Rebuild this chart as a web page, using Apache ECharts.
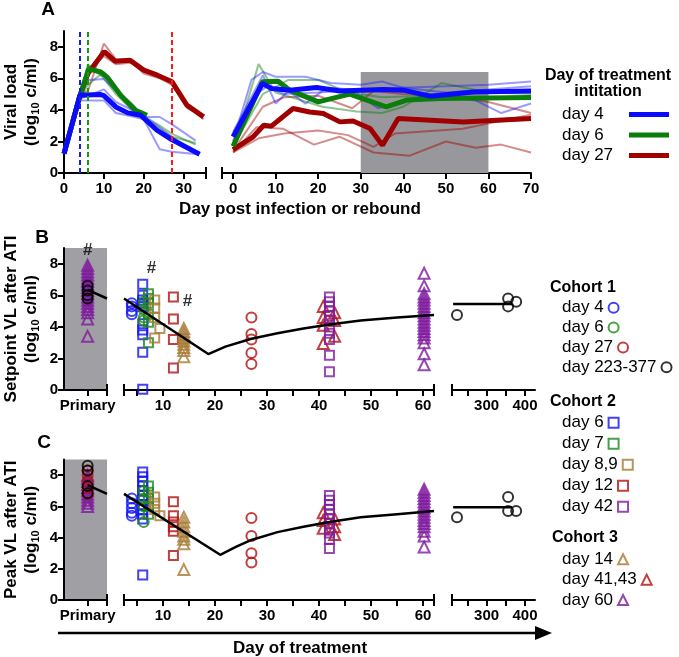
<!DOCTYPE html>
<html><head><meta charset="utf-8">
<script src="https://cdn.jsdelivr.net/npm/echarts@6.0.0/dist/echarts.min.js"></script>
<style>html,body{margin:0;padding:0;background:#fff}#c{width:679px;height:657px}</style>
</head><body><div id="c"></div>
<script>
const FONT = "'Liberation Sans', Arial, Helvetica, sans-serif";
const COL = {blue:'#1212f2', green:'#1a8a1a', red:'#b01010', brown:'#a67a34', purple:'#7e1a9e', black:'#000000'};
const THICK = {blue:'#0a0aff', green:'#0b7d0b', red:'#a00000'};

// ---------- Panel A : viral load curves ----------
const primaryTicks = [0, 10, 20, 30];
const reboundTicks = [0, 10, 20, 30, 40, 50, 60, 70];
const treatStartDays = [4, 6, 27];
const grayWindow = [30, 60, 6.4];

const primBlueMean = [[0,1.23],[4,4.93],[9,4.98],[10,4.9],[13,4.19],[16,3.81],[19.2,3.66],[23.3,2.71],[27,2.12],[34,1.19]];
const primGreenMean = [[0,1.23],[4,4.9],[6.2,6.6],[9.2,6.4],[10.9,6.05],[14.2,4.93],[17.9,3.98],[20.8,3.66]];
const primRedMean = [[0,1.23],[4,4.9],[6,6.3],[10.1,7.7],[12.8,7.09],[16.5,7.15],[20,6.52],[23.4,6.2],[27.1,5.78],[30.8,4.3],[35,3.56]];
const primBlue1 = [[0,1.2],[4,4.8],[6,5.9],[10,5.95],[13,5.2],[17,4.4],[20,3.55],[24,3.55],[27,3.1],[33,2.05]];
const primBlue2 = [[0,1.2],[4,4.6],[6,4.6],[10,4.6],[13,3.8],[17,3.6],[20,3.4],[24,1.5],[27,1.35],[33,1.2]];
const primBlue3 = [[0,1.2],[4,4.7],[6,4.9],[10,5.3],[13,4.5],[17,4.0],[20,3.6],[24,2.9],[27,2.3],[33,1.3]];
const primGreen1 = [[0,1.2],[4,4.7],[6,5.6],[10,6.4],[13,5.3],[17,4.2],[20,3.6],[24,3.0],[27,2.5],[33,1.8]];
const primGreen2 = [[0,1.2],[4,4.9],[6,6.9],[10,6.0],[13,5.0],[17,4.0],[20,3.5],[24,2.8],[27,2.3],[33,1.9]];
const primRed1 = [[0,1.2],[4,5.0],[6,5.2],[10,8.2],[13,7.2],[17,7.2],[20,6.6],[24,6.2],[27,5.8],[31,4.3],[35,3.4]];
const primRed2 = [[0,1.2],[4,5.1],[6,6.6],[10,7.4],[13,6.9],[17,7.0],[20,6.3],[24,6.0],[27,5.6],[31,4.1],[35,3.6]];

const rebBlueMean = [[0,2.3],[6.9,5.67],[9,5.36],[13.3,5.25],[19.6,5.42],[25.1,5.2],[35.3,5.29],[40,5.25],[46.3,4.87],[56.5,5.14],[70,5.2]];
const rebGreenMean = [[0,1.7],[6.9,5.78],[10.6,5.82],[13.3,5.25],[20,4.51],[27.4,5.0],[36,4.19],[40.8,4.62],[48.6,4.72],[70,4.78]];
const rebRedMean = [[0,1.48],[4.7,2.29],[7.2,3.03],[9,2.97],[14.1,4.09],[18,3.87],[21.2,3.77],[25.1,3.24],[28.2,3.3],[32.2,2.82],[35.1,1.76],[38.8,3.45],[54.1,3.24],[70,3.45]];
const rebBlue1 = [[0,2.0],[4.3,5.9],[7,6.4],[10,6.1],[17,6.1],[23,5.7],[30,5.6],[35,5.8],[40,5.4],[50,5.5],[60,5.6],[70,5.8]];
const rebBlue2 = [[0,2.6],[7,6.2],[10,4.4],[13,5.2],[17,4.4],[22,5.4],[28,5.3],[34,4.1],[40,4.5],[46,5.0],[57,4.6],[63,3.8],[70,4.4]];
const rebBlue3 = [[0,1.8],[5,4.9],[8,5.5],[12,5.0],[20,5.1],[30,5.3],[40,5.4],[50,5.1],[60,5.3],[70,5.5]];
const rebGreen1 = [[0,1.5],[6,6.9],[10,5.1],[21,4.2],[29,3.9],[35,3.8],[40,4.2],[49,5.7],[60,5.1],[70,5.0]];
const rebGreen2 = [[0,1.7],[7,5.0],[13,5.9],[20,5.9],[27,5.1],[35,4.8],[45,4.9],[55,4.8],[70,4.8]];
const rebRed1 = [[0,1.3],[5.5,2.9],[11.8,2.8],[19,1.8],[25,2.3],[33,1.3],[41.5,1.1],[50,2.0],[57,1.6],[63,1.8],[70,1.3]];
const rebRed2 = [[0,1.4],[7,4.2],[12,4.8],[20,4.9],[28,4.1],[33,5.2],[40,5.0],[50,4.9],[60,4.5],[70,3.8]];
const rebRed3 = [[0,1.3],[6,2.2],[12,2.5],[20,2.7],[27,2.4],[33,1.65],[38,2.5],[54,2.8],[70,3.7]];

// ---------- Panels B & C : tick labels ----------
const vlTicks = [0, 2, 4, 6, 8];
const treatLabelDays = [10, 20, 30, 40, 50, 60];
const treatTickDays = [5, 10, 15, 20, 25, 30, 35, 40, 45, 50, 55, 60];
const lateLabelDays = [300, 400];
const lateTickDays = [250, 300, 350, 400];
const primX = 0.55;

// ---------- Panel B : setpoint VL ----------
const setC1d4 = [5.5, 5.3, 5.0, 4.8];
const setC1d6 = [5.6, 5.1, 4.6, 4.4];
const setC1d27 = [4.6, 3.55, 3.2, 2.35, 1.65];
const setC1late = [[223,4.75],[356,5.8],[356,5.3],[377,5.6]];
const setC2d6 = [6.7, 6.0, 5.7, 5.5, 5.3, 4.2, 3.8, 3.5, 2.4, 0.05];
const setC2d7 = [6.1, 5.8, 5.5, 4.8, 4.3, 3.0];
const setC2d89 = [[8.4,5.7],[8.4,5.2],[8.4,4.6],[8.4,3.3],[9.4,3.9]];
const setC2d12 = [5.9, 4.5, 3.2, 1.4];
const setC2d42 = [5.9, 5.6, 5.3, 5.0, 4.7, 4.4, 4.0, 3.6, 3.2, 2.2, 1.15];
const setC3d14 = [3.9, 3.7, 3.5, 3.3, 3.1, 2.9, 2.7, 2.5, 2.1];
const setC3d4143 = [[40.8,5.3],[40.8,4.6],[40.8,4.1],[40.8,2.95],[43,4.9],[43,4.4],[43,3.4]];
const setC3d60 = [7.4, 6.6, 6.1, 5.9, 5.7, 5.5, 5.3, 5.1, 4.9, 4.7, 4.5, 4.3, 4.1, 3.9, 3.7, 3.5, 3.3, 3.0, 2.3, 1.6];
const setPrimPurple = [3.4, 4.5, 4.9, 5.1, 5.3, 5.5, 5.7, 5.9, 6.1, 6.3, 6.5, 6.7, 6.9, 7.1, 7.3, 7.5, 7.7, 7.9];
const setPrimRed = [];
const setPrimBlack = [5.8, 6.0, 6.3, 6.6];
const setModelPrim = [[0.55,6.35],[1.0,5.8]];
const setModelTreat = [[2.5,5.8],[18.7,2.28],[22,2.75],[27,3.25],[32,3.6],[37,3.9],[42,4.15],[48,4.4],[55,4.6],[62.1,4.75]];
const setModelLate = [[213,5.45],[366,5.45]];
const setHashPrim = [[0.55,8.86]];
const setHashTreat = [[7.8,7.72],[14.7,5.59]];

// ---------- Panel C : peak VL ----------
const peakC1d4 = [6.5, 6.2, 5.9, 5.6, 5.4];
const peakC1d6 = [7.0, 6.5, 6.0, 5.0];
const peakC1d27 = [5.25, 4.1, 3.0, 2.4];
const peakC1late = [[223,5.3],[356,6.6],[356,5.7],[377,5.7]];
const peakC2d6 = [8.2, 7.9, 7.6, 7.3, 7.0, 6.7, 6.4, 6.1, 5.8, 5.5, 5.2, 1.6];
const peakC2d7 = [7.3, 6.9, 6.5, 6.0, 5.5];
const peakC2d89 = [[8.4,6.6],[8.4,6.2],[8.4,5.8],[9.4,5.4]];
const peakC2d12 = [6.3, 5.4, 5.0, 4.7, 4.4, 2.85];
const peakC2d42 = [6.7, 6.4, 6.1, 5.8, 5.5, 5.2, 4.9, 4.6, 4.3, 3.9, 3.3];
const peakC3d14 = [5.3, 5.0, 4.7, 4.4, 4.1, 3.9, 3.6, 1.95];
const peakC3d4143 = [[40.8,5.6],[40.8,5.1],[40.8,4.6],[43,5.2],[43,4.7],[43,4.2]];
const peakC3d60 = [7.1, 6.9, 6.7, 6.5, 6.3, 6.1, 5.9, 5.7, 5.5, 5.3, 5.1, 4.9, 4.7, 4.4, 4.1, 3.4];
const peakPrimPurple = [6.0, 6.2, 6.4, 6.6, 6.8, 7.0, 7.2, 7.4, 7.6, 7.8, 8.0];
const peakPrimRed = [6.8, 7.2, 7.6, 8.0, 8.3];
const peakPrimBlack = [6.85, 7.3, 8.3, 8.6];
const peakModelPrim = [[0.55,7.37],[1.0,6.8]];
const peakModelTreat = [[2.5,6.8],[21,2.9],[24,3.4],[27,3.85],[32,4.35],[37,4.7],[42,5.0],[48,5.3],[55,5.5],[62.1,5.7]];
const peakModelLate = [[213,5.95],[366,5.95]];

// ---------- legend labels ----------
const legendA = ['A day 4', 'A day 6', 'A day 27'];
const legendC1 = ['C1 day 4', 'C1 day 6', 'C1 day 27', 'C1 day 223-377'];
const legendC2 = ['C2 day 6', 'C2 day 7', 'C2 day 8,9', 'C2 day 12', 'C2 day 42'];
const legendC3 = ['C3 day 14', 'C3 day 41,43', 'C3 day 60'];

// ---------- helpers ----------
const atX = (x, vals) => vals.map(v => [x, v]);
const grids = [
  {left:62, top:31, width:144, height:142},     // 0 A primary
  {left:222, top:31, width:309, height:142},    // 1 A rebound
  {left:62, top:248, width:45, height:142, show:true, backgroundColor:'#a0a0a4', borderWidth:0}, // 2 B primary
  {left:124, top:248, width:310, height:142},   // 3 B treat
  {left:452, top:248, width:83, height:142},    // 4 B late
  {left:62, top:459.6, width:45, height:140.4, show:true, backgroundColor:'#a0a0a4', borderWidth:0}, // 5 C primary
  {left:124, top:459.6, width:310, height:140.4}, // 6 C treat
  {left:452, top:459.6, width:83, height:140.4}   // 7 C late
];
const lbl = {color:'#000', fontFamily:FONT, fontWeight:'bold', fontSize:15};
function xAx(gi, min, max, ticks, labels, fmt) {
  return {type:'value', gridIndex:gi, min, max, position:'bottom',
    axisLine:{show:true, onZero:false, lineStyle:{color:'#000', width:2}},
    axisTick:{show:true, customValues:ticks, length:6, lineStyle:{color:'#000', width:2}},
    axisLabel:Object.assign({show:true, customValues:labels, margin:8, formatter:fmt || (v => String(v))}, lbl),
    splitLine:{show:false}};
}
function brk(gi, min, max, vals) {
  return {type:'value', gridIndex:gi, min, max, position:'bottom',
    axisLine:{show:false}, axisTick:{show:true, inside:true, customValues:vals, length:6, lineStyle:{color:'#000', width:2}},
    axisLabel:{show:false}, splitLine:{show:false}};
}
const nameStyle = {color:'#000', fontFamily:FONT, fontWeight:'bold', fontSize:17, lineHeight:20,
  rich:{s:{fontFamily:FONT, fontWeight:'bold', fontSize:11, lineHeight:12, verticalAlign:'bottom', color:'#000'}}};
function yAx(gi, show, name) {
  return {type:'value', gridIndex:gi, min:0, max:9, show,
    axisLine:{show:true, lineStyle:{color:'#000', width:2}},
    axisTick:{show:true, customValues:vlTicks, length:6, lineStyle:{color:'#000', width:2}},
    axisLabel:Object.assign({customValues:vlTicks, margin:6}, lbl),
    splitLine:{show:false},
    name:name || '', nameLocation:'middle', nameRotate:90, nameGap:23, nameTextStyle:nameStyle};
}

const primFmt = () => 'Primary';
const xAxes = [
  xAx(0, 0, 35.6, primaryTicks.concat([35.6]), primaryTicks),
  xAx(1, -2.6, 70, [-2.6].concat(reboundTicks), reboundTicks),
  xAx(2, 0, 1, [primX, 1], [primX], primFmt),
  xAx(3, 2.5, 62.1, [2.5].concat(treatTickDays, [62.1]), treatLabelDays),
  xAx(4, 210, 426, [210].concat(lateTickDays), lateLabelDays),
  xAx(5, 0, 1, [primX, 1], [primX], primFmt),
  xAx(6, 2.5, 62.1, [2.5].concat(treatTickDays, [62.1]), treatLabelDays),
  xAx(7, 210, 426, [210].concat(lateTickDays), lateLabelDays),
  brk(0, 0, 35.6, [35.6]), brk(1, -2.6, 70, [-2.6]),
  brk(2, 0, 1, [1]), brk(3, 2.5, 62.1, [2.5, 62.1]), brk(4, 210, 426, [210]),
  brk(5, 0, 1, [1]), brk(6, 2.5, 62.1, [2.5, 62.1]), brk(7, 210, 426, [210])
];
const yAxes = [
  yAx(0, true, 'Viral load\n(log{s|10} c/ml)'), yAx(1, false),
  yAx(2, true, 'Setpoint VL after ATI\n(log{s|10} c/ml)'), yAx(3, false), yAx(4, false),
  yAx(5, true, 'Peak VL after ATI\n(log{s|10} c/ml)'), yAx(6, false), yAx(7, false)
];

const series = [];
function addLine(name, data, gi, color, width, opacity, z, extra) {
  series.push(Object.assign({type:'line', name, data, xAxisIndex:gi, yAxisIndex:gi, showSymbol:false, symbol:'none',
    lineStyle:{color, width, opacity}, itemStyle:{color}, z, silent:true, emphasis:{disabled:true}}, extra || {}));
}
function addScatter(name, data, gi, symbol, size, color, z) {
  series.push({type:'scatter', name, data, xAxisIndex:gi, yAxisIndex:gi, symbol, symbolSize:size,
    itemStyle:{color:'rgba(0,0,0,0)', borderColor:color, borderWidth:2}, z:z || 2, silent:true, emphasis:{disabled:true}});
}
function addHash(data, gi) {
  series.push({type:'scatter', name:'hash', data, xAxisIndex:gi, yAxisIndex:gi, symbolSize:1, z:5, silent:true,
    itemStyle:{color:'rgba(0,0,0,0)'},
    label:{show:true, position:'inside', formatter:'#', color:'#000', fontFamily:FONT, fontWeight:'bold', fontSize:17}});
}
function mkLine(x, color) {
  return {markLine:{silent:true, symbol:['none','none'], label:{show:false}, animation:false,
    lineStyle:{type:[5,3], width:2, color, opacity:1}, data:[{xAxis:x}]}};
}

// Panel A
series.push({type:'line', name:'area', data:[], xAxisIndex:1, yAxisIndex:1, z:0, silent:true,
  markArea:{silent:true, itemStyle:{color:'#98989c', opacity:1},
    data:[[{coord:[grayWindow[0], 0]}, {coord:[grayWindow[1], grayWindow[2]]}]]}});
[primRed1, primRed2].forEach(d => addLine('thin', d, 0, THICK.red, 2, 0.45, 2));
[primGreen1, primGreen2].forEach(d => addLine('thin', d, 0, THICK.green, 2, 0.45, 2));
[primBlue1, primBlue2, primBlue3].forEach(d => addLine('thin', d, 0, '#2020ff', 2, 0.45, 2));
[rebRed1, rebRed2, rebRed3].forEach(d => addLine('thin', d, 1, THICK.red, 2, 0.45, 2));
[rebGreen1, rebGreen2].forEach(d => addLine('thin', d, 1, THICK.green, 2, 0.45, 2));
[rebBlue1, rebBlue2, rebBlue3].forEach(d => addLine('thin', d, 1, '#2020ff', 2, 0.45, 2));
addLine('A day 27', primRedMean, 0, THICK.red, 5, 1, 3, mkLine(treatStartDays[2], '#ff1a1a'));
addLine('A day 6', primGreenMean, 0, THICK.green, 5, 1, 3, mkLine(treatStartDays[1], '#129a12'));
addLine('A day 4', primBlueMean, 0, THICK.blue, 5, 1, 3, mkLine(treatStartDays[0], '#1a1aff'));
addLine('A day 27', rebRedMean, 1, THICK.red, 5, 1, 3);
addLine('A day 6', rebGreenMean, 1, THICK.green, 5, 1, 3);
addLine('A day 4', rebBlueMean, 1, THICK.blue, 5, 1, 3);

// Panels B & C
function panel(gp, gt, gl, P) {
  addScatter('C3 day 60', atX(primX, P.primPurple), gp, 'triangle', 11, COL.purple);
  addScatter('C1 day 27', atX(primX, P.primRed), gp, 'circle', 10, COL.red);
  addScatter('C1 day 223-377', atX(primX, P.primBlack), gp, 'circle', 10, COL.black);
  addLine('model', P.modelPrim, gp, '#000', 2.5, 1, 4);
  addScatter('C1 day 4', atX(4, P.c1d4), gt, 'circle', 10, COL.blue);
  addScatter('C2 day 6', atX(6.1, P.c2d6), gt, 'rect', 9, COL.blue);
  addScatter('C2 day 7', atX(7.2, P.c2d7), gt, 'rect', 9, COL.green);
  addScatter('C1 day 6', atX(6.3, P.c1d6), gt, 'circle', 10, COL.green);
  addScatter('C2 day 8,9', P.c2d89, gt, 'rect', 9, COL.brown);
  addScatter('C2 day 12', atX(12, P.c2d12), gt, 'rect', 9, COL.red);
  addScatter('C3 day 14', atX(14, P.c3d14), gt, 'triangle', 11, COL.brown);
  addScatter('C1 day 27', atX(27, P.c1d27), gt, 'circle', 10, COL.red);
  addScatter('C3 day 41,43', P.c3d4143, gt, 'triangle', 11, COL.red);
  addScatter('C2 day 42', atX(42, P.c2d42), gt, 'rect', 9, COL.purple);
  addScatter('C3 day 60', atX(60.2, P.c3d60), gt, 'triangle', 11, COL.purple);
  addLine('model', P.modelTreat, gt, '#000', 2.5, 1, 4);
  addScatter('C1 day 223-377', P.c1late, gl, 'circle', 10, COL.black);
  addLine('model', P.modelLate, gl, '#000', 2.5, 1, 4);
}
panel(2, 3, 4, {primPurple:setPrimPurple, primRed:setPrimRed, primBlack:setPrimBlack, modelPrim:setModelPrim,
  c1d4:setC1d4, c1d6:setC1d6, c1d27:setC1d27, c1late:setC1late, c2d6:setC2d6, c2d7:setC2d7, c2d89:setC2d89,
  c2d12:setC2d12, c2d42:setC2d42, c3d14:setC3d14, c3d4143:setC3d4143, c3d60:setC3d60,
  modelTreat:setModelTreat, modelLate:setModelLate});
panel(5, 6, 7, {primPurple:peakPrimPurple, primRed:peakPrimRed, primBlack:peakPrimBlack, modelPrim:peakModelPrim,
  c1d4:peakC1d4, c1d6:peakC1d6, c1d27:peakC1d27, c1late:peakC1late, c2d6:peakC2d6, c2d7:peakC2d7, c2d89:peakC2d89,
  c2d12:peakC2d12, c2d42:peakC2d42, c3d14:peakC3d14, c3d4143:peakC3d4143, c3d60:peakC3d60,
  modelTreat:peakModelTreat, modelLate:peakModelLate});
addHash(setHashPrim, 2);
addHash(setHashTreat, 3);

const strip = n => n.replace(/^(A|C1|C2|C3) /, '');
const legTxt = {color:'#000', fontFamily:FONT, fontSize:17, lineHeight:19};
// one single-item legend per entry so text is left-aligned and the symbol follows it
function cohortLegends(firstCenter, step, names) {
  return names.map((n, i) => ({orient:'vertical', left:562, top:firstCenter + i * step - 9.5, align:'right', padding:0,
    itemWidth:10, itemHeight:10, itemGap:0, selectedMode:false, data:[n],
    formatter: strip, textStyle:legTxt}));
}

const option = {
  animation:false,
  backgroundColor:'#fff',
  grid:grids, xAxis:xAxes, yAxis:yAxes, series,
  legend:[
    {orient:'vertical', left:562, top:105, align:'right', padding:0, icon:'rect', itemWidth:40, itemHeight:5, itemGap:1.5,
      selectedMode:false, data:legendA,
      formatter: n => '{t|' + strip(n) + '}',
      textStyle:Object.assign({rich:{t:Object.assign({width:62, align:'left'}, legTxt)}}, legTxt)}
  ].concat(cohortLegends(307.7, 19.85, legendC1), cohortLegends(422.7, 21, legendC2), cohortLegends(559.3, 20.35, legendC3)),
  graphic:[
    {type:'text', x:48, y:10, style:{text:'A', font:`bold 19px ${FONT}`, fill:'#000', align:'center', verticalAlign:'middle'}},
    {type:'text', x:42, y:238, style:{text:'B', font:`bold 19px ${FONT}`, fill:'#000', align:'center', verticalAlign:'middle'}},
    {type:'text', x:44, y:443, style:{text:'C', font:`bold 19px ${FONT}`, fill:'#000', align:'center', verticalAlign:'middle'}},
    {type:'text', x:300, y:209, style:{text:'Day post infection or rebound', font:`bold 17px ${FONT}`, fill:'#000', align:'center', verticalAlign:'middle'}},
    {type:'text', x:608, y:76, style:{text:'Day of treatment', font:`bold 16px ${FONT}`, fill:'#000', align:'center', verticalAlign:'middle'}},
    {type:'text', x:608, y:92, style:{text:'intitation', font:`bold 16px ${FONT}`, fill:'#000', align:'center', verticalAlign:'middle'}},
    {type:'text', x:550, y:288, style:{text:'Cohort 1', font:`bold 16px ${FONT}`, fill:'#000', align:'left', verticalAlign:'middle'}},
    {type:'text', x:550, y:402, style:{text:'Cohort 2', font:`bold 16px ${FONT}`, fill:'#000', align:'left', verticalAlign:'middle'}},
    {type:'text', x:552, y:538, style:{text:'Cohort 3', font:`bold 16px ${FONT}`, fill:'#000', align:'left', verticalAlign:'middle'}},
    {type:'line', shape:{x1:58, y1:633, x2:540, y2:633}, style:{stroke:'#000', lineWidth:2.5}},
    {type:'polygon', shape:{points:[[535,626],[552,633],[535,640]]}, style:{fill:'#000'}},
    {type:'text', x:300, y:648, style:{text:'Day of treatment', font:`bold 17px ${FONT}`, fill:'#000', align:'center', verticalAlign:'middle'}}
  ]
};
const chart = echarts.init(document.getElementById('c'), null, {renderer:'canvas'});
chart.setOption(option);
</script>
</body></html>
